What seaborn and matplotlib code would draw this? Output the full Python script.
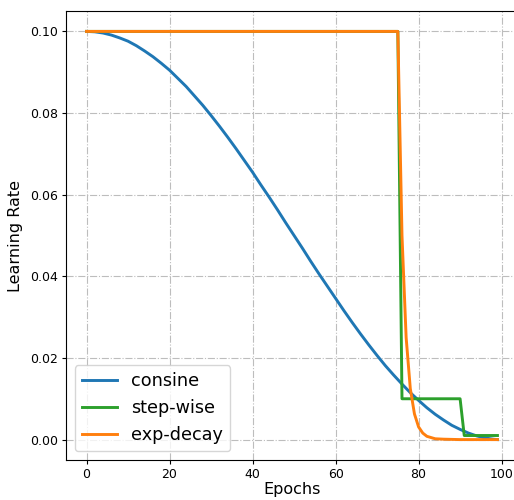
import matplotlib
matplotlib.use("Agg")
import matplotlib.pyplot as plt
import seaborn as sns
import pandas as pd

# cosine schedule, read every 2 epochs
cos_epochs = list(range(0, 100, 2)) + [99]
cos_lr = [0.1, 0.0999, 0.0996, 0.0991, 0.0984, 0.0976, 0.0965, 0.0952, 0.0938, 0.0922,
          0.0905, 0.0885, 0.0865, 0.0842, 0.0819, 0.0794, 0.0768, 0.0741, 0.0713, 0.0684,
          0.0655, 0.0624, 0.0594, 0.0563, 0.0531, 0.05, 0.0469, 0.0437, 0.0406, 0.0376,
          0.0346, 0.0316, 0.0287, 0.0259, 0.0232, 0.0206, 0.0181, 0.0158, 0.0136, 0.0115,
          0.0096, 0.0078, 0.0062, 0.0048, 0.0035, 0.0025, 0.0016, 0.0009, 0.0004, 0.0001,
          0.0]

# step-wise schedule
step_epochs = [0, 75, 76, 90, 91, 99]
step_lr = [0.1, 0.1, 0.01, 0.01, 0.001, 0.001]

# exponential decay schedule
exp_epochs = [0, 75, 76, 77, 78, 79, 80, 81, 82, 84, 86, 90, 99]
exp_lr = [0.1, 0.1, 0.05, 0.025, 0.0125, 0.0063, 0.0031, 0.0016, 0.0008, 0.0002, 0.0001, 0.0, 0.0]

df = pd.concat([
    pd.DataFrame({"epoch": cos_epochs, "lr": cos_lr, "schedule": "consine"}),
    pd.DataFrame({"epoch": step_epochs, "lr": step_lr, "schedule": "step-wise"}),
    pd.DataFrame({"epoch": exp_epochs, "lr": exp_lr, "schedule": "exp-decay"}),
])

colors = {"consine": "#1f77b4", "step-wise": "#2ca02c", "exp-decay": "#ff7f0e"}

fig = plt.figure(figsize=(5.14, 5.0), dpi=100)
ax = fig.add_axes([66 / 514, 40 / 500, 452 / 514, 449 / 500])

sns.lineplot(data=df, x="epoch", y="lr", hue="schedule", palette=colors,
             linewidth=2.1, ax=ax, sort=False)

ax.grid(True, linestyle="-.", color="#bdbdbd", linewidth=0.8)
ax.set_xlabel("Epochs", fontsize=11.5, labelpad=1)
ax.set_ylabel("Learning Rate", fontsize=11.5, labelpad=5)
ax.tick_params(labelsize=9, length=3, pad=2.5)
ax.set_xticks([0, 20, 40, 60, 80, 100])
ax.set_xlim(-4.95, 103.95)
ax.set_ylim(-0.005, 0.105)
ax.legend(loc="lower left", fontsize=12.7, title=None)

fig.savefig("out.png", dpi=100)
